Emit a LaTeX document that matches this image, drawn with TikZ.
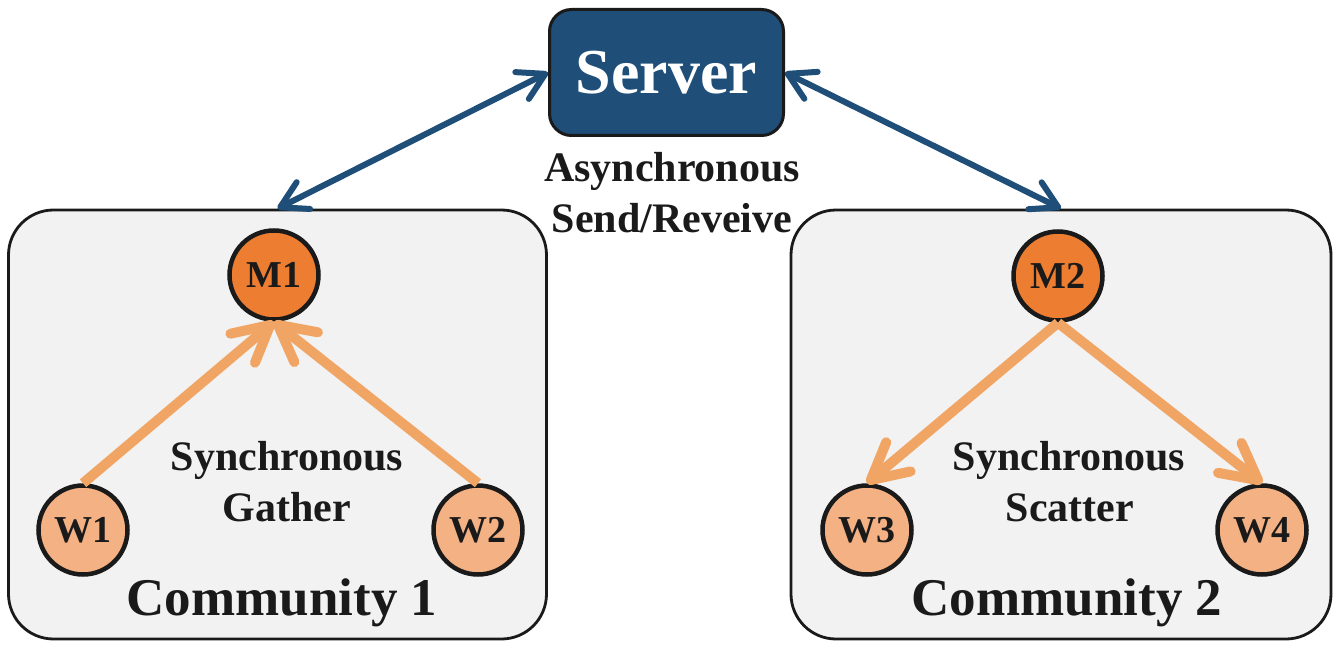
\documentclass[tikz,border=0pt]{standalone}
\usepackage{fontspec}
\setmainfont{Liberation Serif}
\usetikzlibrary{arrows.meta}
\definecolor{srvblue}{HTML}{1F4E79}
\definecolor{boxgrey}{HTML}{F2F2F2}
\definecolor{morange}{HTML}{ED7D31}
\definecolor{worange}{HTML}{F4B183}
\definecolor{oarrow}{HTML}{F1A564}
\definecolor{txt}{HTML}{1A1A1A}
\definecolor{edge}{HTML}{1A1A1A}
\begin{document}
\begin{tikzpicture}[x=1pt,y=-1pt,
  community/.style={draw=edge, line width=2.8pt, fill=boxgrey, rounded corners=45pt,
    minimum width=538pt, minimum height=429pt, inner sep=0pt},
  serverbox/.style={draw=edge, line width=3pt, fill=srvblue, rounded corners=22pt,
    minimum width=234pt, minimum height=126pt, inner sep=0pt, text=white,
    font=\bfseries\fontsize{64}{70}\selectfont},
  mnode/.style={circle, draw=edge, line width=4.5pt, fill=morange, minimum size=89pt,
    inner sep=0pt, text=txt, font=\bfseries\fontsize{38}{40}\selectfont},
  wnode/.style={mnode, fill=worange},
  lbl/.style={anchor=base, text=txt, inner sep=0pt, font=\bfseries\fontsize{42}{46}\selectfont},
  commlbl/.style={anchor=base, text=txt, inner sep=0pt, font=\bfseries\fontsize{53}{58}\selectfont},
  bluelink/.style={draw=srvblue, line width=6pt,
    {Straight Barb[length=26pt,width=30pt,round]}-{Straight Barb[length=26pt,width=30pt,round]}},
  orangelink/.style={draw=oarrow, line width=10pt, -{Straight Barb[length=36pt,width=38pt,round]}}
]
\useasboundingbox (0,0) rectangle (1342,650);

% community boxes
\node[community] (C1) at (277.5,424.5) {};
\node[community, minimum width=540pt] (C2) at (1061,424.5) {};

% server
\node[serverbox] (S) at (666.5,72.5) {Server};

% nodes
\node[mnode] (M1) at (274,275) {M1};
\node[mnode] (M2) at (1058,276) {M2};
\node[wnode] (W1) at (83,530) {W1};
\node[wnode] (W2) at (478,530) {W2};
\node[wnode] (W3) at (867,530) {W3};
\node[wnode] (W4) at (1262,530) {W4};

% connectors
\draw[bluelink] (S.west) -- (C1.north);
\draw[bluelink] (S.east) -- (C2.north);
\draw[orangelink] (W1.north) -- (M1.south);
\draw[orangelink] (W2.north) -- (M1.south);
\draw[orangelink] (M2.south) -- (W3.north);
\draw[orangelink] (M2.south) -- (W4.north);

% labels
\node[lbl] (async1) at (672,182) {Asynchronous};
\node[lbl] (async2) at (672,233) {Send/Reveive};
\node[lbl] (sync1) at (287,470) {Synchronous};
\node[lbl] (gather) at (287,521) {Gather};
\node[lbl] (sync2) at (1069,470) {Synchronous};
\node[lbl] (scatter) at (1070,521) {Scatter};
\node[commlbl] (c1lbl) at (282,615) {Community 1};
\node[commlbl] (c2lbl) at (1067,615) {Community 2};
\end{tikzpicture}
\end{document}
